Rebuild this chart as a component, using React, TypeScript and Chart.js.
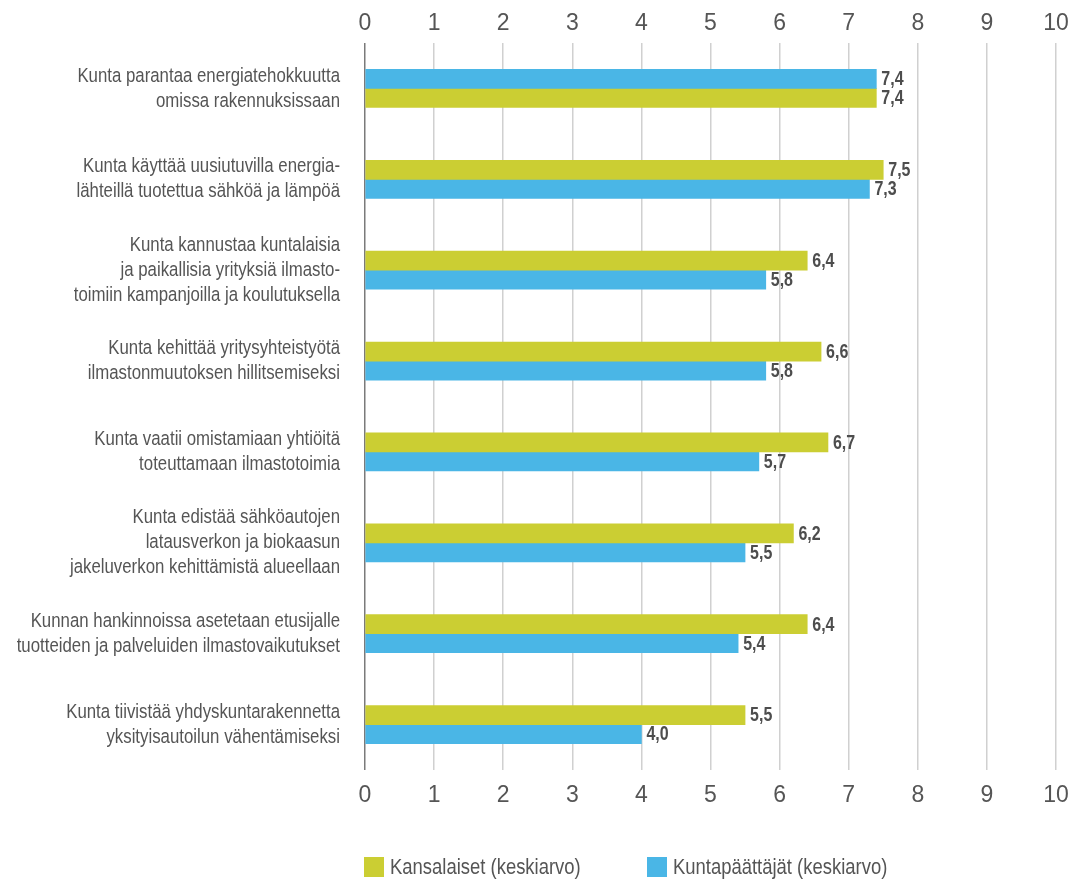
import React, { useEffect, useRef } from "react";
import { Chart, registerables, CategoryScale } from "chart.js";

const FONT = "'Liberation Sans', Arial, sans-serif";
const NARROW = 0.82; // horizontal squeeze that turns Liberation Sans into a narrow face

class NarrowCategoryScale extends (CategoryScale as any) {
  static id = "narrowCategory";
  static defaults = (CategoryScale as any).defaults;
  _computeLabelArea() {
    return undefined;
  }
  drawLabels(chartArea: any) {
    const ctx = (this as any).ctx;
    const ax = (this as any).right - (this as any).options.ticks.padding;
    ctx.save();
    ctx.translate(ax, 0);
    ctx.scale(NARROW, 1);
    ctx.translate(-ax, 0);
    super.drawLabels(chartArea);
    ctx.restore();
  }
}

Chart.register(...registerables, NarrowCategoryScale as any);

const categories: string[][] = [
  ["Kunta parantaa energiatehokkuutta", "omissa rakennuksissaan"],
  ["Kunta käyttää uusiutuvilla energia-", "lähteillä tuotettua sähköä ja lämpöä"],
  ["Kunta kannustaa kuntalaisia", "ja paikallisia yrityksiä ilmasto-", "toimiin kampanjoilla ja koulutuksella"],
  ["Kunta kehittää yritysyhteistyötä", "ilmastonmuutoksen hillitsemiseksi"],
  ["Kunta vaatii omistamiaan yhtiöitä", "toteuttamaan ilmastotoimia"],
  ["Kunta edistää sähköautojen", "latausverkon ja biokaasun", "jakeluverkon kehittämistä alueellaan"],
  ["Kunnan hankinnoissa asetetaan etusijalle", "tuotteiden ja palveluiden ilmastovaikutukset"],
  ["Kunta tiivistää yhdyskuntarakennetta", "yksityisautoilun vähentämiseksi"],
];

const kansalaiset: number[] = [7.4, 7.5, 6.4, 6.6, 6.7, 6.2, 6.4, 5.5];
const kuntapaattajat: number[] = [7.4, 7.3, 5.8, 5.8, 5.7, 5.5, 5.4, 4.0];
// true when the Kuntapäättäjät bar is drawn above the Kansalaiset bar
const kuntapaattajatOnTop: boolean[] = [true, false, false, false, false, false, false, false];

const xTicks: number[] = [0, 1, 2, 3, 4, 5, 6, 7, 8, 9, 10];

const seriesNames = ["Kansalaiset (keskiarvo)", "Kuntapäättäjät (keskiarvo)"];
const GREEN = "#cbce33";
const BLUE = "#4ab6e6";

const fmt = (v: number) => v.toFixed(1).replace(".", ",");

const valueLabels = {
  id: "valueLabels",
  afterDatasetsDraw(chart: any) {
    const ctx = chart.ctx;
    chart.data.datasets.forEach((ds: any, di: number) => {
      const meta = chart.getDatasetMeta(di);
      meta.data.forEach((bar: any, i: number) => {
        const v = ds.data[i];
        const x0 = bar.x + 5;
        ctx.save();
        ctx.translate(x0, bar.y + 1);
        ctx.scale(NARROW, 1);
        ctx.font = `bold 19.5px ${FONT}`;
        ctx.fillStyle = "#4d4d4d";
        ctx.textAlign = "left";
        ctx.textBaseline = "middle";
        ctx.fillText(fmt(v), 0, 0);
        ctx.restore();
      });
    });
  },
};

export default function App() {
  const ref = useRef<HTMLCanvasElement | null>(null);

  useEffect(() => {
    if (!ref.current) return;
    const upper = categories.map((_, i) => (kuntapaattajatOnTop[i] ? kuntapaattajat[i] : kansalaiset[i]));
    const lower = categories.map((_, i) => (kuntapaattajatOnTop[i] ? kansalaiset[i] : kuntapaattajat[i]));
    const upperColors = categories.map((_, i) => (kuntapaattajatOnTop[i] ? BLUE : GREEN));
    const lowerColors = categories.map((_, i) => (kuntapaattajatOnTop[i] ? GREEN : BLUE));

    const tickFont = { family: FONT, size: 23 };
    const chart = new Chart(ref.current, {
      type: "bar",
      data: {
        labels: categories,
        datasets: [
          { label: "upper", data: upper, backgroundColor: upperColors, barThickness: 19, xAxisID: "x" },
          { label: "lower", data: lower, backgroundColor: lowerColors, barThickness: 19, xAxisID: "x" },
        ],
      },
      options: {
        indexAxis: "y",
        responsive: false,
        animation: false,
        layout: { padding: { left: 0, right: 19, top: 0, bottom: 0 } },
        plugins: { legend: { display: false }, tooltip: { enabled: false } },
        scales: {
          x: {
            type: "linear",
            position: "bottom",
            min: 0,
            max: 10,
            afterBuildTicks: (s: any) => {
              s.ticks = xTicks.map((v) => ({ value: v }));
            },
            afterFit: (s: any) => {
              s.height = 112;
              s.paddingLeft = 0;
              s.paddingRight = 0;
            },
            ticks: { font: tickFont, color: "#555", padding: 12, autoSkip: false, maxRotation: 0 },
            grid: {
              drawTicks: false,
              lineWidth: 1.5,
              color: (c: any) => (c.tick && c.tick.value === 0 ? "#7a7a7a" : "#d0d0d0"),
            },
            border: { display: false },
          },
          x2: {
            type: "linear",
            position: "top",
            min: 0,
            max: 10,
            afterBuildTicks: (s: any) => {
              s.ticks = xTicks.map((v) => ({ value: v }));
            },
            afterFit: (s: any) => {
              s.height = 43;
              s.paddingLeft = 0;
              s.paddingRight = 0;
            },
            ticks: { font: tickFont, color: "#555", padding: 6, autoSkip: false, maxRotation: 0 },
            grid: { display: false, drawTicks: false },
            border: { display: false },
          },
          y: {
            type: "narrowCategory",
            afterFit: (s: any) => {
              s.width = 365;
              s.paddingTop = 0;
              s.paddingBottom = 0;
            },
            ticks: {
              font: { family: FONT, size: 20.5, lineHeight: 1.22 },
              color: "#555",
              padding: 25,
              autoSkip: false,
            },
            grid: { display: false, drawTicks: false },
            border: { display: false },
          },
        },
      },
      plugins: [valueLabels],
    } as any);
    return () => chart.destroy();
  }, []);

  const legendText: React.CSSProperties = {
    position: "absolute",
    top: 853,
    fontFamily: FONT,
    fontSize: 22.5,
    lineHeight: "28px",
    color: "#555",
    whiteSpace: "nowrap",
    transform: `scaleX(${NARROW})`,
    transformOrigin: "left center",
  };

  return (
    <div style={{ position: "fixed", left: 0, top: 0, width: 1075, height: 882, background: "#fff" }}>
      <canvas ref={ref} width={1075} height={882} style={{ width: 1075, height: 882, display: "block" }} />
      <div style={{ position: "absolute", left: 364, top: 857, width: 20, height: 20, background: GREEN }} />
      <div style={{ ...legendText, left: 390 }}>{seriesNames[0]}</div>
      <div style={{ position: "absolute", left: 647, top: 857, width: 20, height: 20, background: BLUE }} />
      <div style={{ ...legendText, left: 673 }}>{seriesNames[1]}</div>
    </div>
  );
}
